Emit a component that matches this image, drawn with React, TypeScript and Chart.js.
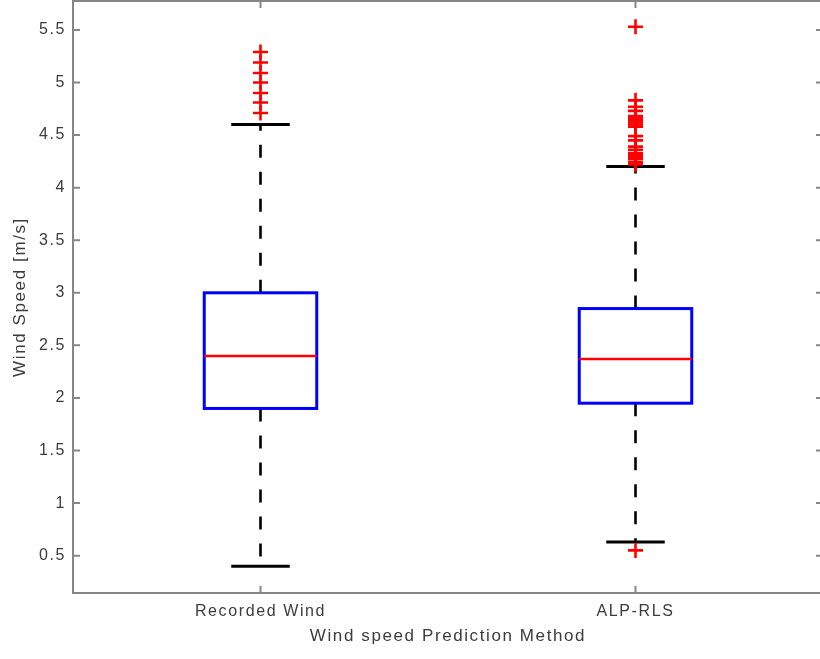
import React, { useEffect, useRef } from 'react';
import { Chart, registerables } from 'chart.js';

Chart.register(...registerables);

// ---------- data ----------
const categories = ['Recorded Wind', 'ALP-RLS'];
const q1Values = [1.9, 1.95];
const medianValues = [2.4, 2.37];
const q3Values = [3.0, 2.85];
const whiskerLow = [0.4, 0.63];
const whiskerHigh = [4.6, 4.2];
const outliersRecorded = [4.71, 4.81, 4.9, 5.0, 5.09, 5.19, 5.29];
const outliersAlp = [0.55, 4.22, 4.24, 4.27, 4.29, 4.31, 4.33, 4.36, 4.39, 4.45, 4.49, 4.58, 4.6, 4.62, 4.64, 4.66, 4.68, 4.73, 4.77, 4.83, 5.53];
const yTickValues = [0.5, 1, 1.5, 2, 2.5, 3, 3.5, 4, 4.5, 5, 5.5];
const yMin = 0.145;
const yMax = 5.775;
const xTitle = 'Wind speed Prediction Method';
const yTitle = 'Wind Speed [m/s]';

// ---------- style ----------
const FONT = "'Liberation Sans', Arial, sans-serif";
const TEXT_COLOR = '#3c3c3c';
const FRAME_COLOR = '#868686';
const LETTER_SPACING = '1.6px';
const BOX_HALF = 0.15;
const CAP_HALF = 0.078;

const boxPlugin = {
  id: 'boxplotDraw',
  beforeDraw(chart: any) {
    (chart.ctx as any).letterSpacing = LETTER_SPACING;
  },
  beforeDatasetsDraw(chart: any) {
    const { ctx, scales } = chart;
    const x = scales.x;
    const y = scales.y;
    ctx.save();
    (ctx as any).letterSpacing = '0px';
    categories.forEach((_, i) => {
      const v = i + 1;
      const cx = x.getPixelForValue(v);
      const bl = x.getPixelForValue(v - BOX_HALF);
      const br = x.getPixelForValue(v + BOX_HALF);
      const cl = x.getPixelForValue(v - CAP_HALF);
      const cr = x.getPixelForValue(v + CAP_HALF);
      const yq1 = y.getPixelForValue(q1Values[i]);
      const yq3 = y.getPixelForValue(q3Values[i]);
      const ymed = y.getPixelForValue(medianValues[i]);
      const ylo = y.getPixelForValue(whiskerLow[i]);
      const yhi = y.getPixelForValue(whiskerHigh[i]);

      // dashed whiskers
      ctx.strokeStyle = '#000000';
      ctx.lineWidth = 2.6;
      ctx.setLineDash([13, 14]);
      ctx.beginPath();
      ctx.moveTo(cx, yq3);
      ctx.lineTo(cx, yhi);
      ctx.stroke();
      ctx.beginPath();
      ctx.moveTo(cx, yq1);
      ctx.lineTo(cx, ylo);
      ctx.stroke();
      ctx.setLineDash([]);

      // caps
      ctx.lineWidth = 3;
      ctx.beginPath();
      ctx.moveTo(cl, yhi);
      ctx.lineTo(cr, yhi);
      ctx.moveTo(cl, ylo);
      ctx.lineTo(cr, ylo);
      ctx.stroke();

      // box
      ctx.strokeStyle = '#0000ff';
      ctx.lineWidth = 3;
      ctx.strokeRect(bl, yq3, br - bl, yq1 - yq3);

      // median
      ctx.strokeStyle = '#ff0000';
      ctx.lineWidth = 2.5;
      ctx.beginPath();
      ctx.moveTo(bl, ymed);
      ctx.lineTo(br, ymed);
      ctx.stroke();
    });
    ctx.restore();
  },
  afterDraw(chart: any) {
    const { ctx, chartArea, scales } = chart;
    const x = scales.x;
    const y = scales.y;
    const { left, right, top, bottom } = chartArea;
    ctx.save();
    ctx.strokeStyle = FRAME_COLOR;
    ctx.lineWidth = 2;
    ctx.beginPath();
    ctx.rect(left, top, right - left, bottom - top);
    ctx.stroke();
    ctx.beginPath();
    yTickValues.forEach((t) => {
      const py = y.getPixelForValue(t);
      ctx.moveTo(left, py);
      ctx.lineTo(left + 7, py);
      ctx.moveTo(right, py);
      ctx.lineTo(right - 7, py);
    });
    categories.forEach((_, i) => {
      const px = x.getPixelForValue(i + 1);
      ctx.moveTo(px, bottom);
      ctx.lineTo(px, bottom - 7);
      ctx.moveTo(px, top);
      ctx.lineTo(px, top + 7);
    });
    ctx.stroke();
    ctx.restore();
  },
};

export default function App() {
  const canvasRef = useRef<HTMLCanvasElement | null>(null);

  useEffect(() => {
    const canvas = canvasRef.current;
    if (!canvas) return;
    const outlierPoints = [
      ...outliersRecorded.map((v) => ({ x: 1, y: v })),
      ...outliersAlp.map((v) => ({ x: 2, y: v })),
    ];
    const chart = new Chart(canvas, {
      type: 'scatter',
      data: {
        datasets: [
          {
            label: 'Outliers',
            data: outlierPoints,
            pointStyle: 'cross',
            radius: 7.5,
            hoverRadius: 7.5,
            borderColor: '#ff0000',
            backgroundColor: '#ff0000',
            borderWidth: 2.6,
          } as any,
        ],
      },
      options: {
        animation: false,
        responsive: false,
        devicePixelRatio: 1,
        layout: { autoPadding: false, padding: { top: 1, right: 7, left: 0, bottom: 0 } },
        plugins: {
          legend: { display: false },
          tooltip: { enabled: false },
        },
        scales: {
          x: {
            type: 'linear',
            min: 0.5,
            max: 2.5,
            afterBuildTicks: (s: any) => {
              s.ticks = categories.map((_, i) => ({ value: i + 1 }));
            },
            afterFit: (s: any) => {
              s.height = 66;
              s.paddingLeft = 0;
              s.paddingRight = 0;
            },
            ticks: {
              callback: (v: any) => categories[Math.round(Number(v)) - 1] ?? '',
              font: { family: FONT, size: 16 },
              color: TEXT_COLOR,
              padding: 9,
              maxRotation: 0,
              autoSkip: false,
            },
            grid: { display: false, drawTicks: false },
            border: { display: false },
            title: {
              display: true,
              text: xTitle,
              font: { family: FONT, size: 17 },
              color: TEXT_COLOR,
              padding: { top: 0, bottom: 12 },
            },
          },
          y: {
            type: 'linear',
            min: yMin,
            max: yMax,
            afterBuildTicks: (s: any) => {
              s.ticks = yTickValues.map((v) => ({ value: v }));
            },
            afterFit: (s: any) => {
              s.width = 73;
              s.paddingTop = 0;
              s.paddingBottom = 0;
            },
            ticks: {
              callback: (v: any) => String(v),
              font: { family: FONT, size: 16 },
              color: TEXT_COLOR,
              padding: 7,
            },
            grid: { display: false, drawTicks: false },
            border: { display: false },
            title: {
              display: true,
              text: yTitle,
              font: { family: FONT, size: 17 },
              color: TEXT_COLOR,
              padding: { top: 10, bottom: 0 },
            },
          },
        },
      },
      plugins: [boxPlugin],
    });
    return () => {
      chart.destroy();
    };
  }, []);

  return (
    <div
      style={{
        position: 'fixed',
        left: 0,
        top: 0,
        width: 820,
        height: 659,
        overflow: 'hidden',
        background: '#ffffff',
      }}
    >
      <canvas ref={canvasRef} width={830} height={659} style={{ display: 'block' }} />
    </div>
  );
}
